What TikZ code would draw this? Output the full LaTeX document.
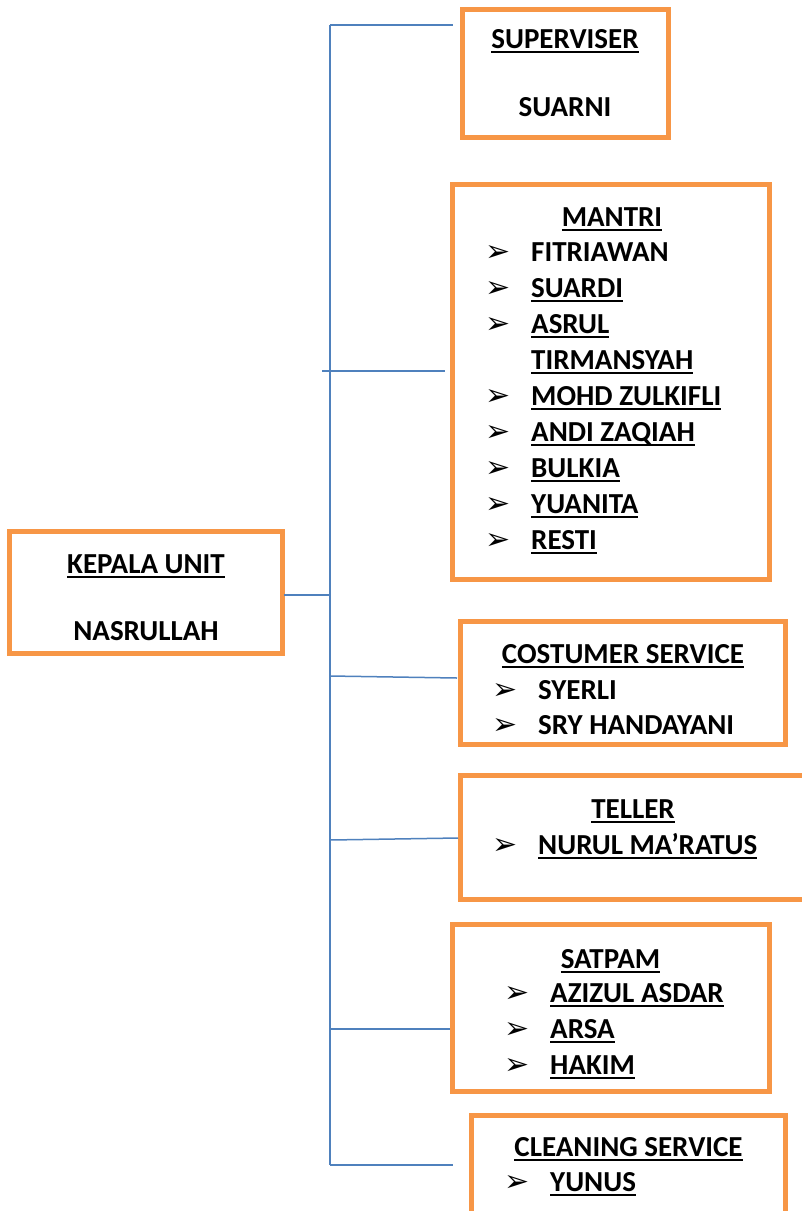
\documentclass[tikz,border=0pt]{standalone}
\usepackage{fontspec}
\setmainfont{Carlito}
\newfontfamily\bulletfont{DejaVu Sans}
\usepackage{tikz}
\usetikzlibrary{positioning}

\definecolor{boxorange}{HTML}{F79646}
\definecolor{linkblue}{HTML}{4F81BD}

% thick word-style underline
\newcommand{\ulname}[1]{\setbox0\hbox{#1}\rlap{\rule[-5pt]{\wd0}{2.4pt}}\box0}
% arrow-head bullet with the gap before the name
\newcommand{\pointer}{\makebox[46pt][l]{\bulletfont\fontsize{30}{30}\selectfont ➢}}

\begin{document}
\begin{tikzpicture}[
        x=1pt, y=-1pt,
        every node/.style={font=\fontsize{29}{32}\selectfont\bfseries},
        unitbox/.style={
            draw=boxorange,
            line width=5pt,
            fill=white,
            inner sep=0pt
        },
        heading/.style={anchor=base, inner sep=0pt},
        member/.style={anchor=base west, inner sep=0pt},
        link/.style={draw=linkblue, line width=1.5pt}
    ]

    \useasboundingbox[fill=white] (0,0) rectangle (802,1211);
    \clip (0,0) rectangle (802,1211);

    % boxes
    \node[unitbox, minimum width=273pt, minimum height=122pt] (kepala) at (146,592.5) {};
    \node[unitbox, minimum width=206pt, minimum height=128pt] (sup) at (565,73) {};
    \node[unitbox, minimum width=317pt, minimum height=395pt] (mantri) at (611,382) {};
    \node[unitbox, minimum width=325pt, minimum height=123pt] (cs) at (623,683) {};
    \node[unitbox, minimum width=345pt, minimum height=124pt] (teller) at (633,837.5) {};
    \node[unitbox, minimum width=317pt, minimum height=167pt] (satpam) at (611,1008) {};
    \node[unitbox, minimum width=314pt, minimum height=120pt] (cleaning) at (628.5,1175.5) {};

    % texts
    \node[heading] (kepalahead) at (146,573) {\ulname{KEPALA UNIT}};
    \node[heading] (kepalaname) at (146,640) {NASRULLAH};

    \node[heading] (suphead) at (565,48) {\ulname{SUPERVISER}};
    \node[heading] (supname) at (565,116) {SUARNI};

    \node[heading] (mantrihead) at (612,226) {\ulname{MANTRI}};
    \node[member] (m1) at (485,261) {\pointer FITRIAWAN};
    \node[member] (m2) at (485,297) {\pointer\ulname{SUARDI}};
    \node[member] (m3) at (485,333) {\pointer\ulname{ASRUL}};
    \node[member] (m3b) at (531,369) {\ulname{TIRMANSYAH}};
    \node[member] (m4) at (485,405) {\pointer\ulname{MOHD ZULKIFLI}};
    \node[member] (m5) at (485,441) {\pointer\ulname{ANDI ZAQIAH}};
    \node[member] (m6) at (485,477) {\pointer\ulname{BULKIA}};
    \node[member] (m7) at (485,513) {\pointer\ulname{YUANITA}};
    \node[member] (m8) at (485,549) {\pointer\ulname{RESTI}};

    \node[heading] (cshead) at (623,663) {\ulname{COSTUMER SERVICE}};
    \node[member] (cs1) at (492,699) {\pointer SYERLI};
    \node[member] (cs2) at (492,734) {\pointer SRY HANDAYANI};

    \node[heading] (tellerhead) at (633,818) {\ulname{TELLER}};
    \node[member] (t1) at (492,854) {\pointer\ulname{NURUL MA’RATUS}};

    \node[heading] (satpamhead) at (610.5,968) {\ulname{SATPAM}};
    \node[member] (s1) at (504,1002) {\pointer\ulname{AZIZUL ASDAR}};
    \node[member] (s2) at (504,1038) {\pointer\ulname{ARSA}};
    \node[member] (s3) at (504,1074) {\pointer\ulname{HAKIM}};

    \node[heading] (cleaninghead) at (628.5,1156) {\ulname{CLEANING SERVICE}};
    \node[member] (c1) at (504,1191) {\pointer\ulname{YUNUS}};

    % connectors
    \coordinate (trunktop) at (330,25);
    \coordinate (trunkbot) at (330,1165);
    \coordinate (supin) at (453,25);
    \coordinate (kepalaout) at (284,595);
    \coordinate (mantriout) at (322,371);
    \coordinate (mantriin) at (445,371);
    \coordinate (csout) at (330,676);
    \coordinate (csin) at (457,678);
    \coordinate (tellerout) at (330,840);
    \coordinate (tellerin) at (458,838);
    \coordinate (satpamin) at (450,1029);
    \coordinate (cleaningin) at (453,1165);

    \draw[link] (trunktop) -- (trunkbot);
    \draw[link] (kepalaout) -- (kepalaout -| trunktop);
    \draw[link] (trunktop) -- (supin);
    \draw[link] (mantriout) -- (mantriin);
    \draw[link] (csout) -- (csin);
    \draw[link] (tellerout) -- (tellerin);
    \draw[link] (satpamin -| trunktop) -- (satpamin);
    \draw[link] (trunkbot) -- (cleaningin);

\end{tikzpicture}
\end{document}
